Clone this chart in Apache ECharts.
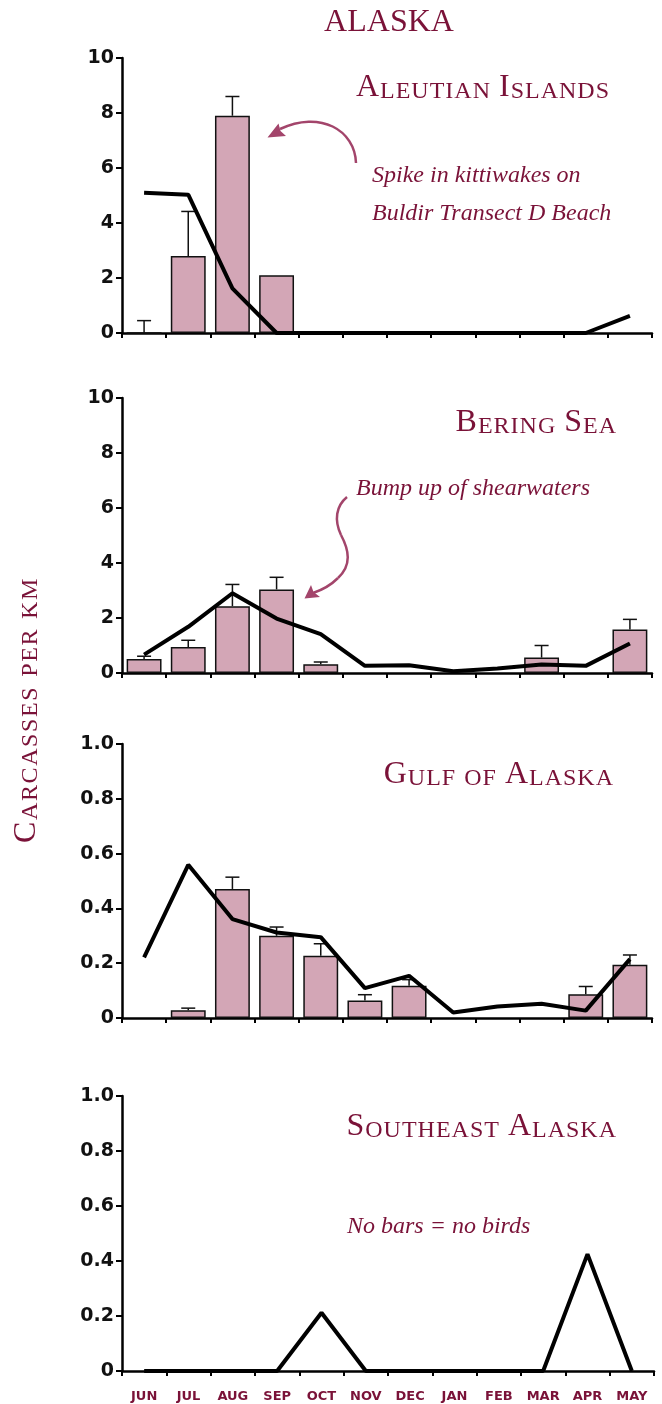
<!DOCTYPE html>
<html>
<head>
<meta charset="utf-8">
<script src="https://cdn.jsdelivr.net/npm/echarts@6/dist/echarts.min.js"></script>
<style>
  html, body { margin: 0; padding: 0; background: #fff; }
  #chart { width: 662px; height: 1404px; }
</style>
</head>
<body>
<div id="chart"></div>
<script>
// Monthly beached-bird carcass rates (carcasses per km) for four Alaska regions.
const months = ['JUN', 'JUL', 'AUG', 'SEP', 'OCT', 'NOV', 'DEC', 'JAN', 'FEB', 'MAR', 'APR', 'MAY'];

// Bars = this season, errUp = top of the error whisker, line = long-term average
const aleutianBars  = [0, 2.8, 7.9, 2.1, null, null, null, null, null, null, null, null];
const aleutianErrUp = [0.45, 4.42, 8.6, null, null, null, null, null, null, null, null, null];
const aleutianLine  = [5.1, 5.03, 1.62, 0, 0, 0, 0, 0, 0, 0, 0, 0.62];

const beringBars  = [0.51, 0.95, 2.43, 3.04, 0.32, null, null, null, null, 0.56, null, 1.58];
const beringErrUp = [0.61, 1.19, 3.22, 3.48, 0.40, null, null, null, null, 1.0, null, 1.95];
const beringLine  = [0.67, 1.68, 2.9, 1.98, 1.41, 0.26, 0.28, 0.06, 0.16, 0.31, 0.26, 1.07];

const gulfBars  = [null, 0.028, 0.471, 0.30, 0.227, 0.064, 0.118, null, null, null, 0.087, 0.194];
const gulfErrUp = [null, 0.036, 0.514, 0.332, 0.271, 0.085, 0.14, null, null, null, 0.115, 0.23];
const gulfLine  = [0.221, 0.559, 0.361, 0.312, 0.295, 0.109, 0.154, 0.02, 0.042, 0.052, 0.027, 0.215];

const southeastLine = [0, 0, 0, 0, 0.212, 0, 0, 0, 0, 0, 0.425, 0];

const ticksCount = ['0', '2', '4', '6', '8', '10'];
const ticksFrac  = ['0', '0.2', '0.4', '0.6', '0.8', '1.0'];

const MAROON = '#7a1238';
const ARROW = '#a3456b';
const BAR_FILL = '#d3a6b6';
const SERIF = '"Liberation Serif", "DejaVu Serif", serif';
const SANS = '"DejaVu Sans", sans-serif';

const grids = [
  { left: 122, right: 10, top: 58, height: 275 },
  { left: 122, right: 10, top: 398, height: 275 },
  { left: 122, right: 10, top: 744, height: 274 },
  { left: 122, right: 8, top: 1096, height: 275 }
];

function xAxisFor(i, showLabels) {
  return {
    type: 'category', gridIndex: i, data: months, boundaryGap: true,
    axisLine: { lineStyle: { color: '#000', width: 2.5 } },
    axisTick: { show: true, length: 5, lineStyle: { color: '#000', width: 2 } },
    axisLabel: {
      show: showLabels, color: MAROON, fontFamily: SANS, fontWeight: 'bold',
      fontSize: 13, margin: 19, interval: 0
    },
    splitLine: { show: false }
  };
}

function yAxisFor(i, max, interval, labels) {
  return {
    type: 'value', gridIndex: i, min: 0, max: max, interval: interval,
    axisLine: { show: true, lineStyle: { color: '#000', width: 2.5 } },
    axisTick: { show: true, length: 6, lineStyle: { color: '#000', width: 2 } },
    axisLabel: {
      color: '#111', fontFamily: SANS, fontWeight: 'bold', fontSize: 19, margin: 8,
      formatter: (v, idx) => labels[idx]
    },
    splitLine: { show: false }
  };
}

function barSeries(i, data) {
  return {
    type: 'bar', xAxisIndex: i, yAxisIndex: i, data: data, z: 2,
    barCategoryGap: '21%',
    itemStyle: { color: BAR_FILL, borderColor: '#111', borderWidth: 1.5 }
  };
}

function errorSeries(i, bars, errUp) {
  const pts = [];
  errUp.forEach((e, k) => { if (e !== null) pts.push([k, bars[k] || 0, e]); });
  return {
    type: 'custom', xAxisIndex: i, yAxisIndex: i, data: pts, z: 3,
    encode: { x: 0, y: [1, 2] },
    renderItem: (params, api) => {
      const k = api.value(0);
      const p0 = api.coord([k, api.value(1)]);
      const p1 = api.coord([k, api.value(2)]);
      const half = 7;
      const st = { stroke: '#111', lineWidth: 1.5 };
      return {
        type: 'group',
        children: [
          { type: 'line', shape: { x1: p0[0], y1: p0[1], x2: p1[0], y2: p1[1] }, style: st },
          { type: 'line', shape: { x1: p1[0] - half, y1: p1[1], x2: p1[0] + half, y2: p1[1] }, style: st }
        ]
      };
    }
  };
}

function lineSeries(i, data) {
  return {
    type: 'line', xAxisIndex: i, yAxisIndex: i, data: data, z: 5,
    showSymbol: false, symbol: 'none',
    lineStyle: { color: '#000', width: 4 }
  };
}

// Small-caps heading: capitals large, other letters as smaller capitals, letter-spaced
function capsRich(track, gap) {
  return {
    c: { fontFamily: SERIF, fontSize: 32, lineHeight: 32, fill: MAROON, verticalAlign: 'bottom', padding: [0, track, 0, 0] },
    s: { fontFamily: SERIF, fontSize: 24, lineHeight: 26.5, fill: MAROON, verticalAlign: 'bottom', padding: [0, track, 0, 0] },
    w: { fontFamily: SERIF, fontSize: 24, lineHeight: 26.5, fill: MAROON, verticalAlign: 'bottom', padding: [0, gap, 0, 0] }
  };
}

function smallCaps(text) {
  return text.split(' ').map(word =>
    word.split('').map(ch => (/[A-Z]/.test(ch) ? '{c|' + ch + '}' : '{s|' + ch.toUpperCase() + '}')).join('')
  ).join('{w| }');
}

function heading(text, x, y) {
  return {
    type: 'text', x: x, y: y, z: 10,
    style: { text: smallCaps(text), rich: capsRich(1.0, 2), fill: MAROON, align: 'right', verticalAlign: 'middle' }
  };
}

function note(text, x, y) {
  return {
    type: 'text', x: x, y: y, z: 10,
    style: {
      text: text, fill: MAROON, font: 'italic 24px ' + SERIF,
      align: 'left', verticalAlign: 'middle'
    }
  };
}

function curve(x1, y1, cpx1, cpy1, cpx2, cpy2, x2, y2) {
  return {
    type: 'bezierCurve', z: 10,
    shape: { x1, y1, cpx1, cpy1, cpx2, cpy2, x2, y2 },
    style: { stroke: ARROW, lineWidth: 2.5, fill: null }
  };
}

function head(points) {
  return { type: 'polygon', z: 10, shape: { points: points }, style: { fill: ARROW } };
}

const chart = echarts.init(document.getElementById('chart'), null, { renderer: 'canvas' });

chart.setOption({
  animation: false,
  backgroundColor: '#fff',
  grid: grids,
  xAxis: [xAxisFor(0, false), xAxisFor(1, false), xAxisFor(2, false), xAxisFor(3, true)],
  yAxis: [
    yAxisFor(0, 10, 2, ticksCount),
    yAxisFor(1, 10, 2, ticksCount),
    yAxisFor(2, 1, 0.2, ticksFrac),
    yAxisFor(3, 1, 0.2, ticksFrac)
  ],
  series: [
    barSeries(0, aleutianBars), errorSeries(0, aleutianBars, aleutianErrUp), lineSeries(0, aleutianLine),
    barSeries(1, beringBars), errorSeries(1, beringBars, beringErrUp), lineSeries(1, beringLine),
    barSeries(2, gulfBars), errorSeries(2, gulfBars, gulfErrUp), lineSeries(2, gulfLine),
    lineSeries(3, southeastLine)
  ],
  graphic: [
    {
      type: 'text', x: 389, y: 23, z: 10,
      style: { text: 'ALASKA', fill: MAROON, font: '32px ' + SERIF, align: 'center', verticalAlign: 'middle' }
    },
    heading('Aleutian Islands', 610, 88),
    heading('Bering Sea', 617, 423),
    heading('Gulf of Alaska', 614, 775),
    heading('Southeast Alaska', 617, 1127),
    {
      type: 'text', x: 27, y: 710, rotation: Math.PI / 2, z: 10,
      style: { text: smallCaps('Carcasses per km'), rich: capsRich(1.6, 3), fill: MAROON, align: 'center', verticalAlign: 'middle' }
    },
    note('Spike in kittiwakes on', 372, 176),
    note('Buldir Transect D Beach', 372, 214),
    note('Bump up of shearwaters', 356, 489),
    note('No bars = no birds', 347, 1227),
    // curved pointer to the August spike
    curve(356, 163, 355, 130, 320, 110, 280, 129),
    head([[267.5, 137.5], [278.5, 123.5], [280.5, 131], [286, 136]]),
    // wavy pointer to the September shearwater bar
    curve(347, 497, 336, 506, 334, 520, 341, 535),
    curve(341, 535, 349, 550, 352, 565, 338, 578),
    curve(338, 578, 330, 586, 322, 590, 313, 593),
    head([[304.5, 598.5], [311, 585], [313.5, 592], [320, 597]])
  ]
});
</script>
</body>
</html>
